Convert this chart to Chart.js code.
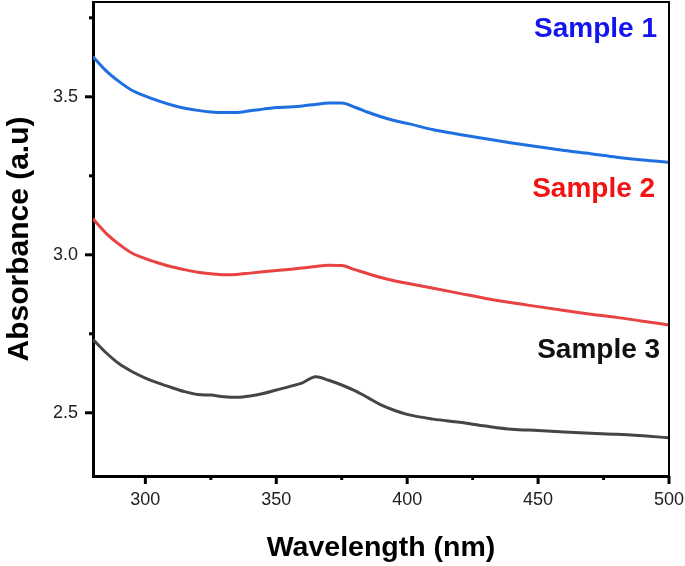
<!DOCTYPE html>
<html>
<head>
<meta charset="utf-8">
<script src="https://cdn.jsdelivr.net/npm/chart.js@4"></script>
<style>
  html, body { margin: 0; padding: 0; background: #fff; }
  #wrap { width: 685px; height: 566px; }
</style>
</head>
<body>
<div id="wrap"><canvas id="absChart" width="685" height="566"></canvas></div>
<script>
// wavelength grid (nm)
const wavelengths = [280, 285, 290, 295, 300, 305, 310, 315, 320, 325, 330, 335, 340, 345, 350,
  355, 360, 365, 370, 375, 380, 385, 390, 395, 400, 410, 420, 430, 440, 450, 460, 470, 480, 490, 500];

// absorbance values
const sample1 = [3.627, 3.582, 3.548, 3.520, 3.502, 3.487, 3.474, 3.464, 3.457, 3.452, 3.450, 3.450, 3.456, 3.461, 3.466,
  3.468, 3.471, 3.476, 3.480, 3.480, 3.467, 3.451, 3.437, 3.425, 3.416, 3.396, 3.381, 3.367, 3.354, 3.342, 3.330, 3.320, 3.309, 3.300, 3.293];
const sample2 = [3.114, 3.068, 3.033, 3.005, 2.988, 2.974, 2.962, 2.953, 2.945, 2.940, 2.937, 2.938, 2.942, 2.946, 2.950,
  2.954, 2.958, 2.963, 2.967, 2.966, 2.953, 2.940, 2.928, 2.918, 2.910, 2.894, 2.878, 2.862, 2.848, 2.836, 2.824, 2.812, 2.802, 2.790, 2.778];
const sample3 = [2.732, 2.690, 2.655, 2.630, 2.610, 2.594, 2.580, 2.567, 2.558, 2.556, 2.551, 2.549, 2.553, 2.561, 2.572,
  2.583, 2.595, 2.614, 2.603, 2.588, 2.570, 2.548, 2.525, 2.508, 2.495, 2.480, 2.470, 2.458, 2.448, 2.444, 2.439, 2.435, 2.432, 2.427, 2.421];

const seriesNames = ['Sample 1', 'Sample 2', 'Sample 3'];
const xTicks = [300, 325, 350, 375, 400, 425, 450, 475, 500];
const yTicks = [2.5, 2.75, 3.0, 3.25, 3.5, 3.75];

const FONT = '"Liberation Sans", Arial, sans-serif';

function toPoints(values) {
  return wavelengths.map((w, i) => ({ x: w, y: values[i] }));
}

// frame on top/right, tick marks (major + minor) and the sample labels
const decorPlugin = {
  id: 'decor',
  afterDraw(chart) {
    const ctx = chart.ctx;
    const area = chart.chartArea;
    const xs = chart.scales.x;
    const ys = chart.scales.y;
    ctx.save();
    ctx.strokeStyle = '#000';
    ctx.lineWidth = 2;
    ctx.beginPath();
    ctx.moveTo(area.left, area.top);
    ctx.lineTo(area.right, area.top);
    ctx.lineTo(area.right, area.bottom);
    ctx.stroke();

    ctx.lineWidth = 3;
    xTicks.forEach(v => {
      const px = xs.getPixelForValue(v);
      const len = v % 50 === 0 ? 8 : 4;
      ctx.beginPath();
      ctx.moveTo(px, area.bottom);
      ctx.lineTo(px, area.bottom + len);
      ctx.stroke();
    });
    yTicks.forEach(v => {
      const py = ys.getPixelForValue(v);
      const major = Math.abs(v * 2 - Math.round(v * 2)) < 1e-6;
      const len = major ? 8 : 4;
      ctx.beginPath();
      ctx.moveTo(area.left, py);
      ctx.lineTo(area.left - len, py);
      ctx.stroke();
    });

    // labels placed in data coordinates
    const labels = [
      { text: seriesNames[0], x: 495.4, y: 3.690, color: '#1414ee' },
      { text: seriesNames[1], x: 494.7, y: 3.184, color: '#f01414' },
      { text: seriesNames[2], x: 496.6, y: 2.675, color: '#111111' }
    ];
    ctx.font = 'bold 28px ' + FONT;
    ctx.textAlign = 'right';
    ctx.textBaseline = 'alphabetic';
    labels.forEach(l => {
      ctx.fillStyle = l.color;
      ctx.fillText(l.text, xs.getPixelForValue(l.x), ys.getPixelForValue(l.y));
    });
    ctx.restore();
  }
};

const ctx = document.getElementById('absChart').getContext('2d');
new Chart(ctx, {
  type: 'line',
  data: {
    datasets: [
      { label: seriesNames[0], data: toPoints(sample1), borderColor: '#1f6fe0', borderWidth: 3 },
      { label: seriesNames[1], data: toPoints(sample2), borderColor: '#e84242', borderWidth: 3 },
      { label: seriesNames[2], data: toPoints(sample3), borderColor: '#454545', borderWidth: 3 }
    ]
  },
  options: {
    responsive: false,
    animation: false,
    devicePixelRatio: 1,
    layout: { padding: { left: 0, top: 2, right: 16, bottom: 0 } },
    elements: {
      point: { radius: 0 },
      line: { cubicInterpolationMode: 'monotone', fill: false }
    },
    plugins: {
      legend: { display: false },
      tooltip: { enabled: false }
    },
    scales: {
      x: {
        type: 'linear',
        min: 280,
        max: 500,
        afterBuildTicks: scale => { scale.ticks = xTicks.map(v => ({ value: v })); },
        afterFit: scale => {
          scale.height = 90;
          scale.paddingLeft = 0;
          scale.paddingRight = 0;
        },
        grid: { display: true, drawOnChartArea: false, drawTicks: true, tickLength: 8, tickColor: 'rgba(0,0,0,0)' },
        border: { display: true, color: '#000', width: 3 },
        ticks: {
          padding: 5,
          color: '#222',
          font: { family: FONT, size: 18 },
          maxRotation: 0,
          callback: v => (v % 50 === 0 ? String(v) : '')
        },
        title: {
          display: true,
          text: 'Wavelength (nm)',
          color: '#000',
          font: { family: FONT, size: 28.5, weight: 'bold' },
          padding: { top: 0, bottom: 1 }
        }
      },
      y: {
        min: 2.3,
        max: 3.8,
        afterBuildTicks: scale => { scale.ticks = yTicks.map(v => ({ value: v })); },
        afterFit: scale => {
          scale.width = 93;
          scale.paddingTop = 0;
          scale.paddingBottom = 0;
        },
        grid: { display: true, drawOnChartArea: false, drawTicks: true, tickLength: 8, tickColor: 'rgba(0,0,0,0)' },
        border: { display: true, color: '#000', width: 3 },
        ticks: {
          padding: 7,
          color: '#222',
          font: { family: FONT, size: 18 },
          callback: v => (Math.abs(v * 2 - Math.round(v * 2)) < 1e-6 ? v.toFixed(1) : '')
        },
        title: {
          display: true,
          text: 'Absorbance (a.u)',
          color: '#000',
          font: { family: FONT, size: 30, weight: 'bold' },
          padding: { top: 2, bottom: 0 }
        }
      }
    }
  },
  plugins: [decorPlugin]
});
</script>
</body>
</html>
